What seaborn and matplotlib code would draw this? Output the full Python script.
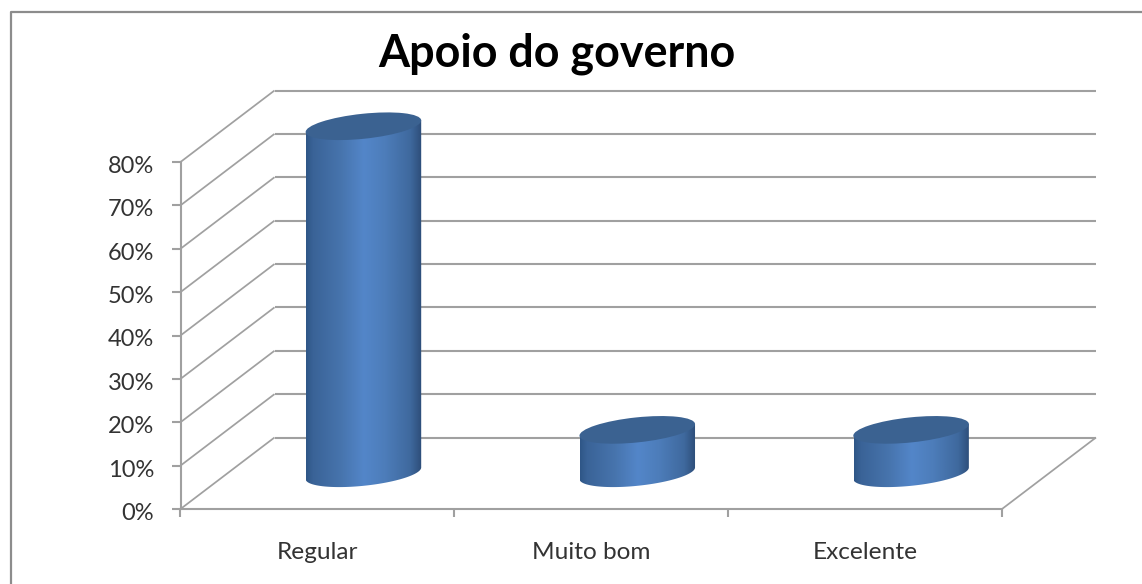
import numpy as np
import pandas as pd
import seaborn as sns
import matplotlib.pyplot as plt
from matplotlib.colors import LinearSegmentedColormap
from matplotlib.lines import Line2D
from matplotlib.patches import Ellipse, Polygon
from matplotlib.ticker import PercentFormatter
from matplotlib.transforms import IdentityTransform, Affine2D

categories = ['Regular', 'Muito bom', 'Excelente']
values = [0.80, 0.10, 0.10]
y_ticks = [0, 0.1, 0.2, 0.3, 0.4, 0.5, 0.6, 0.7, 0.8]
title = 'Apoio do governo'

sns.set_style('white')
plt.rcParams['font.family'] = ['Lato', 'DejaVu Sans']

W, H = 1142, 584
fig = plt.figure(figsize=(W / 100, H / 100), dpi=100)
ax = fig.add_axes([180.5 / W, 75 / H, 821.5 / W, 347 / H])

df = pd.DataFrame({'cat': categories, 'val': values})
sns.barplot(data=df, x='cat', y='val', width=0.42, color='#4a7ab8', ax=ax)
ax.set_xlim(-0.5, 2.5)
ax.set_ylim(0, 0.8)
ax.set_xlabel('')
ax.set_ylabel('')

GRAY = '#a0a0a0'
DX, DY = 94, 71.5
LW = 1.5

ax.set_yticks(y_ticks)
ax.yaxis.set_major_formatter(PercentFormatter(1, decimals=0))
ax.set_xticks([-0.5, 0.5, 1.5, 2.5], minor=True)
ax.tick_params(axis='y', length=6.5, width=LW, color=GRAY, labelsize=17,
               labelcolor='#333333', pad=12.5, left=True)
ax.tick_params(axis='x', which='major', length=0, labelsize=17.6, labelcolor='#333333', pad=24)
ax.tick_params(axis='x', which='minor', length=6, width=LW, color=GRAY, bottom=True)
for s in ['top', 'right']:
    ax.spines[s].set_visible(False)
for s in ['left', 'bottom']:
    ax.spines[s].set_color(GRAY)
    ax.spines[s].set_linewidth(LW)

ident = IdentityTransform()


def px(x, y):
    return ax.transData.transform((x, y))


def line(xs, ys, color=GRAY, lw=LW, z=1):
    ln = Line2D(xs, ys, transform=ident, color=color, lw=lw, zorder=z, solid_capstyle='butt')
    ax.add_artist(ln)
    ln.set_clip_on(False)


# back wall and side wall lines
for t in y_ticks:
    x0, y0 = px(-0.5, t)
    x1, _ = px(2.5, t)
    line([x0 + DX, x1 + DX], [y0 + DY, y0 + DY])
    line([x0, x0 + DX], [y0, y0 + DY], lw=1.25)
x1, y1 = px(2.5, 0)
line([x1, x1 + DX], [y1, y1 + DY], lw=1.25)

# cylinders on top of what seaborn placed
cmap = LinearSegmentedColormap.from_list('cyl', [
    (0, '#2f5687'), (0.06, '#3a6397'), (0.3, '#4774ad'), (0.5, '#5386c9'),
    (0.68, '#4d7dba'), (0.9, '#3f699e'), (1, '#2d4d78')])
tilt = 6
grad = np.linspace(0, 1, 256).reshape(1, -1)
depth_x = DX / 2 - 1
shift = Affine2D().translate(depth_x, DY / 2)

for bar in list(ax.patches):
    bar.set_visible(False)
    x, w, h = bar.get_x(), bar.get_width(), bar.get_height()
    lx, by = px(x, 0)
    rx, ty = px(x + w, h)
    lx, rx = lx + depth_x, rx + depth_x
    by, ty = by + DY / 2, ty + DY / 2
    cx = (lx + rx) / 2
    a = (rx - lx) / 2 * 1.01
    b = 12.5
    th = np.radians(tilt)
    t = np.linspace(0, 2 * np.pi, 361)[:-1]
    ex = a * np.cos(t) * np.cos(th) - b * np.sin(t) * np.sin(th)
    ey = a * np.cos(t) * np.sin(th) + b * np.sin(t) * np.cos(th)
    il, ir = np.argmin(ex), np.argmax(ex)
    # lower arc, from the left tangent point round to the right one
    n = (ir - il) % 360
    arc = (il + np.arange(n + 1)) % 360
    verts = np.column_stack([cx + ex[arc], by + ey[arc]])
    verts = np.vstack([verts, [cx + ex[ir], ty + ey[ir]], [cx + ex[il], ty + ey[il]]])
    body = Polygon(verts, closed=True, transform=ident, facecolor='none', edgecolor='none')
    fig.add_artist(body)
    im = ax.imshow(grad, cmap=cmap, aspect='auto', interpolation='bilinear', zorder=3,
                   extent=(x, x + w, -0.1, h + 0.1),
                   transform=ax.transData + shift)
    im.set_clip_path(body)
    im.set_clip_box(fig.bbox)
    top = Ellipse((cx, ty), 2 * a, 2 * b, angle=tilt, transform=ident,
                  facecolor='#3b6291', edgecolor='none', zorder=4)
    ax.add_artist(top)
    top.set_clip_on(False)

ax.set_xlim(-0.5, 2.5)
ax.set_ylim(0, 0.8)

# labels sit slightly under their ticks in the original
for lab in ax.get_yticklabels():
    lab.set_transform(lab.get_transform() + Affine2D().translate(0, -2.5))

# outer chart frame, left and top only
line([11, 11, W], [0, H - 12, H - 12], color='#8c8c8c', lw=1.6, z=5)

fig.text(556.5 / W, 1 - 53.5 / H, title, ha='center', va='center', fontsize=32.3,
         fontweight='bold', color='black')

fig.savefig('out.png', dpi=100)
